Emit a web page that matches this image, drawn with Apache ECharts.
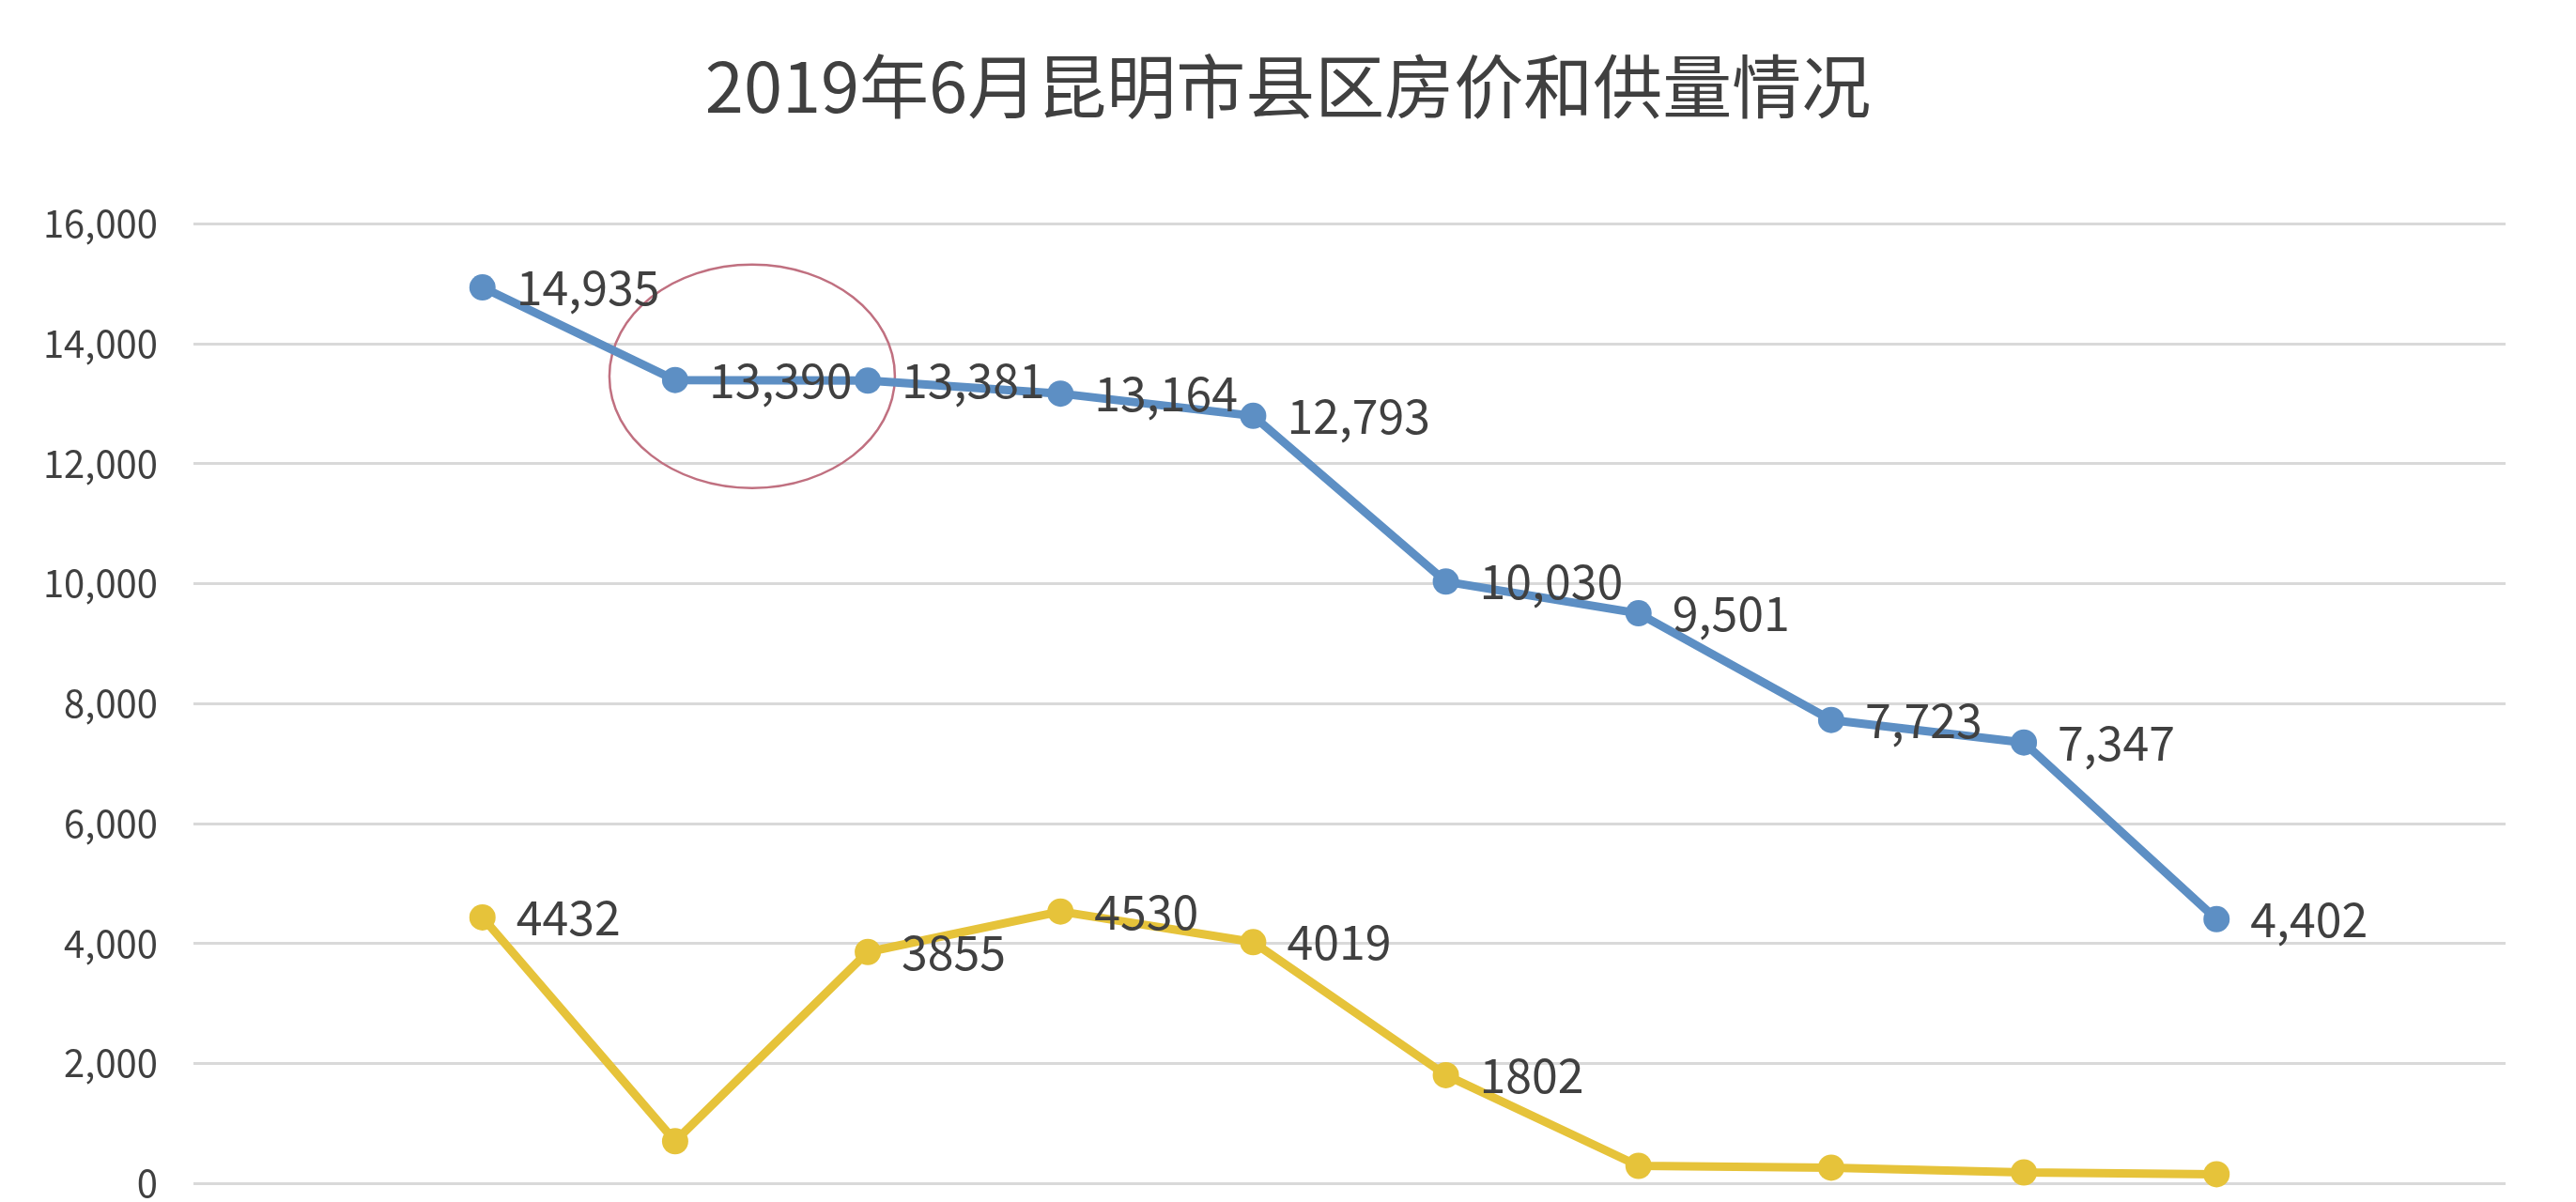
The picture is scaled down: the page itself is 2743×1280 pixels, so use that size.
<!DOCTYPE html><html><head><meta charset="utf-8">
<script src="https://cdn.jsdelivr.net/npm/echarts@6/dist/echarts.min.js"></script>
<style>html,body{margin:0;background:#fff;overflow:hidden}#c{width:2743px;height:1280px}</style></head><body><div id="c"></div>
<script>
const categories=['1','2','3','4','5','6','7','8','9','10'];
const priceValues=[14935,13390,13381,13164,12793,10030,9501,7723,7347,4402];
const supplyValues=[4432,700,3855,4530,4019,1802,290,260,180,150];
const supplyLabels=['4432','','3855','4530','4019','1802','','','',''];
const chart=echarts.init(document.getElementById('c'));
const lbl={show:true,position:'right',distance:22,fontSize:50,color:'#404040',fontFamily:'Noto Sans CJK SC'};
chart.setOption({
 animation:false,
 title:{text:'2019年6月昆明市县区房价和供量情况',left:'center',top:50,textStyle:{fontSize:74,fontWeight:'normal',color:'#404040',fontFamily:'Noto Sans CJK SC'}},
 grid:{left:206,right:75,top:238,height:1103},
 xAxis:{type:'category',data:categories,show:false,boundaryGap:[0,0],min:-0.69,max:9.55},
 yAxis:{type:'value',min:0,max:16000,interval:2000,
  axisLabel:{fontSize:40,color:'#404040',margin:38,fontFamily:'Noto Sans CJK SC',formatter:v=>v.toLocaleString('en-US')},
  splitLine:{lineStyle:{color:'#d9d9d9',width:3}},axisLine:{show:false},axisTick:{show:false}},
 series:[
  {type:'line',data:priceValues,color:'#5d8fc4',lineStyle:{width:9},symbol:'circle',symbolSize:28,
   label:Object.assign({},lbl,{formatter:p=>p.value.toLocaleString('en-US')})},
  {type:'line',data:supplyValues,color:'#e6c33a',lineStyle:{width:9},symbol:'circle',symbolSize:28,
   label:Object.assign({},lbl,{formatter:p=>supplyLabels[p.dataIndex]})}
 ]
});
const p=chart.convertToPixel({gridIndex:0},[1,priceValues[1]]);
chart.setOption({graphic:[{type:'ellipse',shape:{cx:p[0]+82,cy:p[1]-4,rx:152,ry:119},style:{fill:'none',stroke:'#c07080',lineWidth:2.5}}]});
</script></body></html>
